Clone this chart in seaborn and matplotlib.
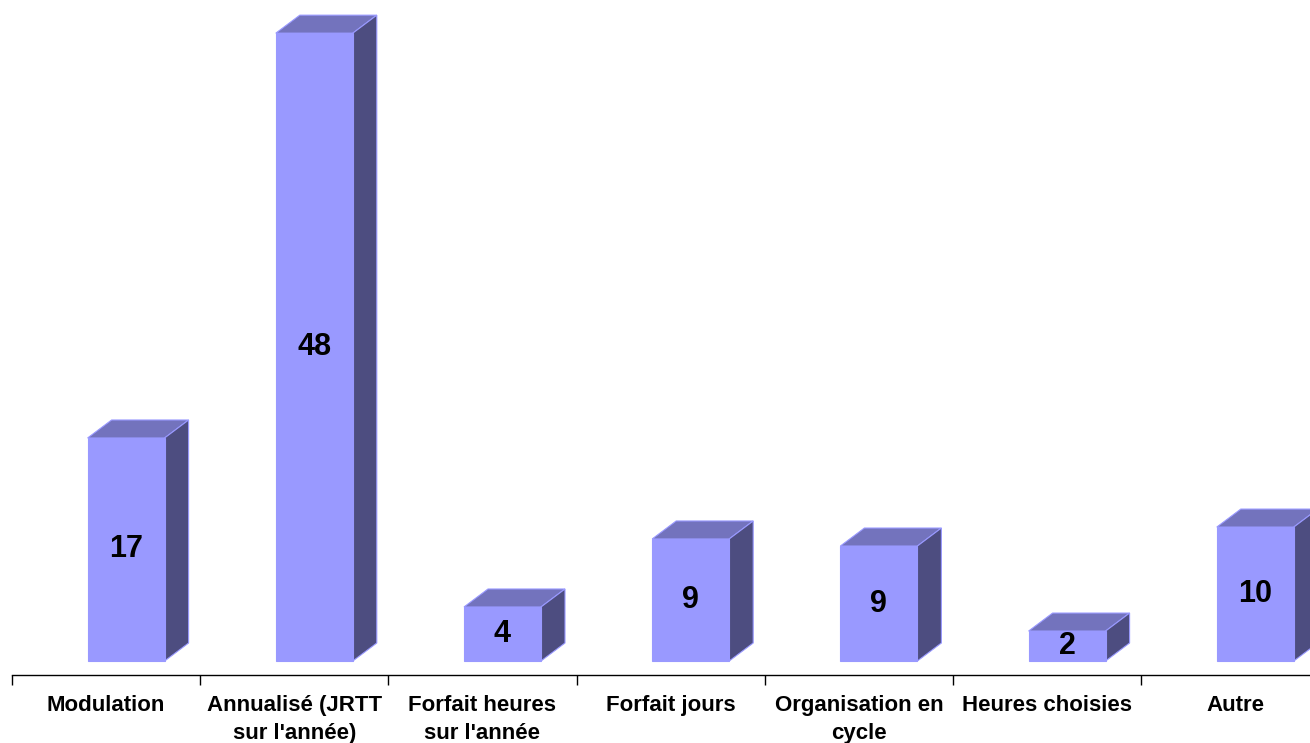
import matplotlib
matplotlib.use("Agg")
import matplotlib.pyplot as plt
import seaborn as sns
import numpy as np
import pandas as pd
from matplotlib.patches import Polygon

categories = ["Modulation", "Annualisé (JRTT\nsur l'année)", "Forfait heures\nsur l'année",
              "Forfait jours", "Organisation en\ncycle", "Heures choisies", "Autre"]
values = [17.05, 48.0, 4.13, 9.33, 8.79, 2.29, 10.24]
labels = ["17", "48", "4", "9", "9", "2", "10"]

front_col = "#9999FF"
top_col = "#7373BD"
side_col = "#4D4D80"
edge_col = "#9999FF"

sns.set_theme(style="white")
plt.rcParams['font.family'] = ['Liberation Sans', 'DejaVu Sans']

W, H = 1310, 743
fig = plt.figure(figsize=(W / 100, H / 100), dpi=100)
px_per_cat = 188.2
px_per_unit = 13.08
ax_left = 12 / W
ax_bottom = (H - 675) / H
ax = fig.add_axes([ax_left, ax_bottom, 1 - ax_left, 1 - ax_bottom])

df = pd.DataFrame({"cat": categories, "val": values})
sns.barplot(data=df, x="cat", y="val", ax=ax, color=front_col, saturation=1,
            width=77 / px_per_cat, edgecolor=edge_col, linewidth=0.8, zorder=3)

shift = 20 / px_per_cat
dx = 24 / px_per_cat
dy = 18 / px_per_unit
for p, lab in zip(ax.patches, labels):
    p.set_x(p.get_x() + shift)
    x0 = p.get_x(); w = p.get_width(); h = p.get_height()
    x1 = x0 + w
    top = Polygon([(x0, h), (x1, h), (x1 + dx, h + dy), (x0 + dx, h + dy)], closed=True,
                  facecolor=top_col, edgecolor=edge_col, linewidth=0.8, zorder=2)
    side = Polygon([(x1, 0), (x1 + dx, dy), (x1 + dx, h + dy), (x1, h)], closed=True,
                   facecolor=side_col, edgecolor=edge_col, linewidth=0.8, zorder=2)
    ax.add_patch(top); ax.add_patch(side)
    ax.text(x0 + w / 2, h / 2, lab, ha="center", va="center", fontsize=22,
            fontweight="bold", color="black", zorder=4)

ax.set_xlabel(""); ax.set_ylabel("")
ax.set_yticks([])
for s in ["top", "right", "left"]:
    ax.spines[s].set_visible(False)
ax.spines["bottom"].set_color("black")
ax.spines["bottom"].set_linewidth(1.0)
ax.set_xticks(np.arange(len(categories)))
ax.set_xticklabels(categories, fontsize=16, fontweight="bold", linespacing=1.4, va="top",
                   color="black")
ax.set_xticks(np.arange(-0.5, len(categories) + 0.5, 1), minor=True)
ax.tick_params(axis="x", which="major", length=0, pad=14.5)
ax.tick_params(axis="x", which="minor", length=7.5, width=1, color="black", direction="out", bottom=True)
ax.set_xlim(-0.5, -0.5 + (W - 12) / px_per_cat)
ax.set_ylim(-14 / px_per_unit, 661 / px_per_unit)

fig.savefig("out.png", dpi=100)
